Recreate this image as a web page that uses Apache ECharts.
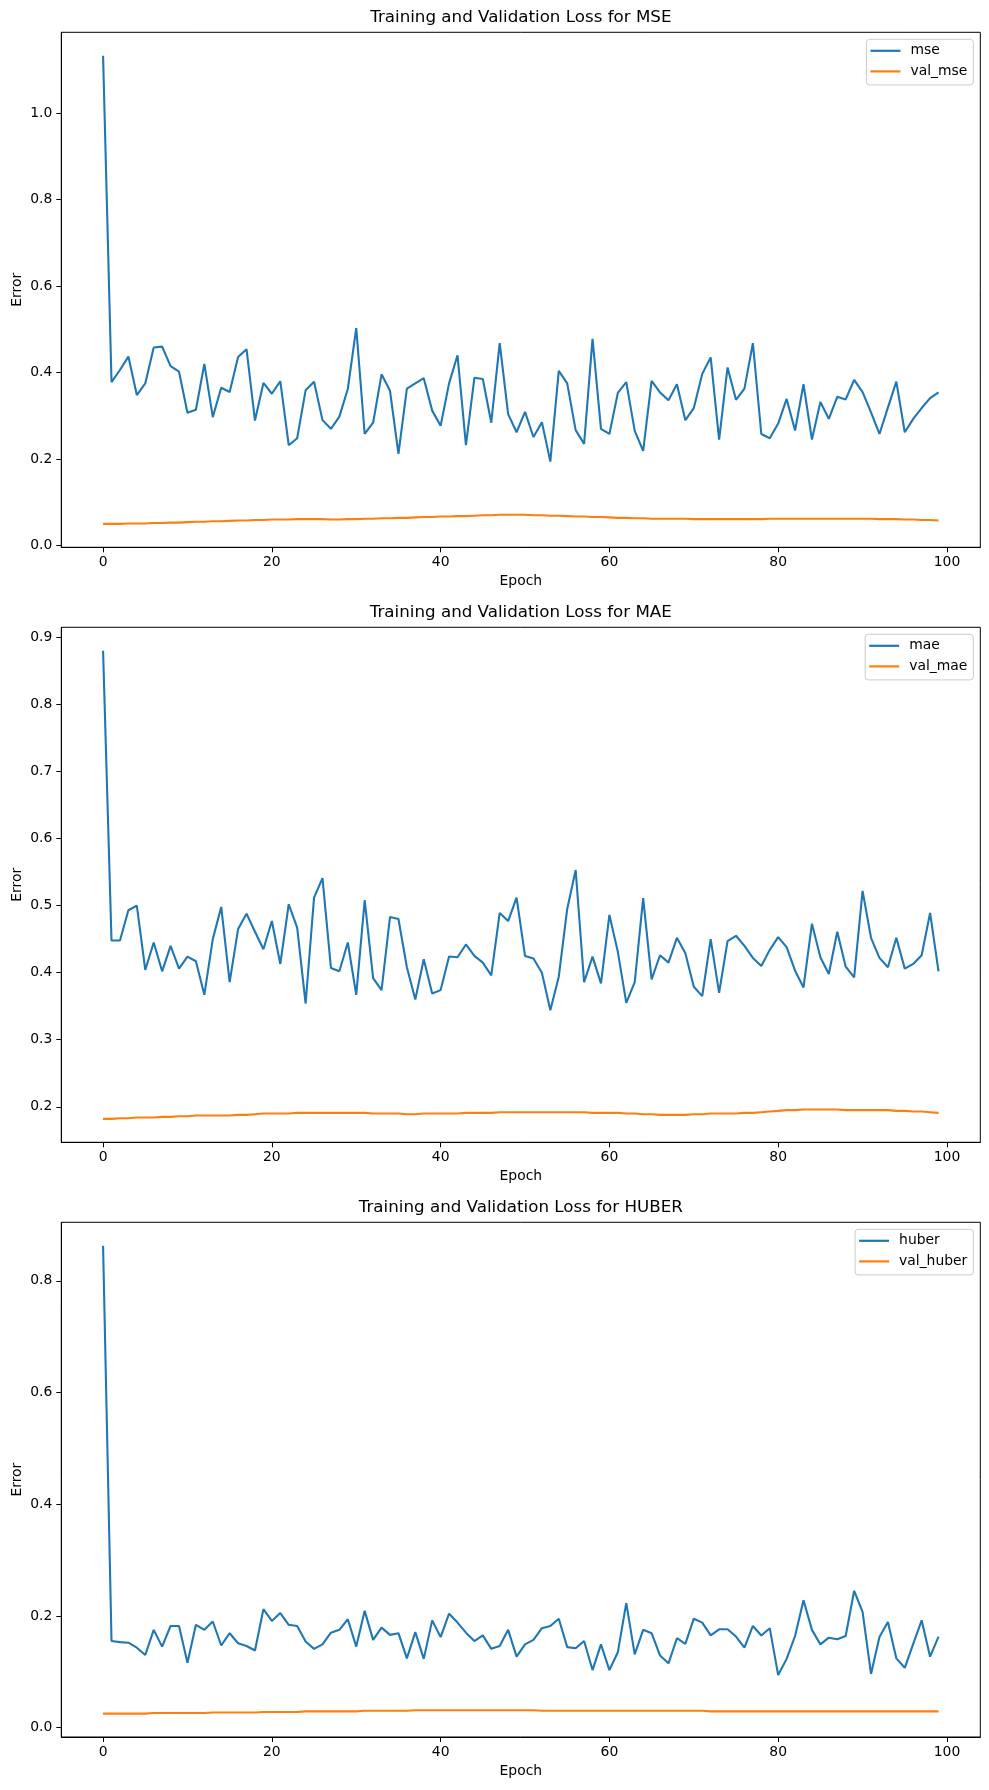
<!DOCTYPE html>
<html>
<head>
<meta charset="utf-8">
<script src="https://cdn.jsdelivr.net/npm/echarts@6/dist/echarts.min.js"></script>
<style>
  html, body { margin: 0; padding: 0; background: #ffffff; }
  #chart { width: 989px; height: 1790px; }
</style>
</head>
<body>
<div id="chart"></div>
<script>
// values, one per epoch (0..99)
const mse = [1.133, 0.378, 0.406, 0.437, 0.348, 0.375, 0.458, 0.460, 0.415, 0.402,
  0.307, 0.314, 0.420, 0.297, 0.365, 0.355, 0.436, 0.454, 0.289, 0.376,
  0.351, 0.380, 0.232, 0.248, 0.359, 0.379, 0.290, 0.270, 0.298, 0.362,
  0.503, 0.258, 0.284, 0.396, 0.358, 0.212, 0.363, 0.375, 0.387, 0.312,
  0.277, 0.375, 0.440, 0.232, 0.388, 0.385, 0.284, 0.468, 0.304, 0.262,
  0.309, 0.251, 0.285, 0.194, 0.404, 0.375, 0.267, 0.235, 0.478, 0.270,
  0.258, 0.353, 0.378, 0.265, 0.219, 0.381, 0.354, 0.336, 0.373, 0.290,
  0.318, 0.397, 0.435, 0.245, 0.412, 0.337, 0.363, 0.468, 0.258, 0.248,
  0.282, 0.339, 0.266, 0.373, 0.245, 0.332, 0.293, 0.344, 0.338, 0.383,
  0.355, 0.308, 0.258, 0.319, 0.379, 0.262, 0.293, 0.318, 0.341, 0.354];

const valMse = [0.050, 0.050, 0.050, 0.051, 0.051, 0.051, 0.052, 0.052, 0.053, 0.053,
  0.054, 0.055, 0.055, 0.056, 0.056, 0.057, 0.058, 0.058, 0.059, 0.059,
  0.060, 0.060, 0.060, 0.061, 0.061, 0.061, 0.061, 0.060, 0.060, 0.061,
  0.061, 0.062, 0.062, 0.063, 0.063, 0.064, 0.064, 0.065, 0.066, 0.066,
  0.067, 0.067, 0.068, 0.068, 0.069, 0.070, 0.070, 0.071, 0.071, 0.071,
  0.071, 0.070, 0.070, 0.069, 0.069, 0.068, 0.067, 0.067, 0.066, 0.066,
  0.065, 0.064, 0.064, 0.063, 0.063, 0.062, 0.062, 0.062, 0.062, 0.062,
  0.061, 0.061, 0.061, 0.061, 0.061, 0.061, 0.061, 0.061, 0.061, 0.062,
  0.062, 0.062, 0.062, 0.062, 0.062, 0.062, 0.062, 0.062, 0.062, 0.062,
  0.062, 0.062, 0.061, 0.061, 0.061, 0.060, 0.060, 0.059, 0.059, 0.058];

const mae = [0.880, 0.448, 0.448, 0.493, 0.500, 0.404, 0.445, 0.402, 0.440, 0.406,
  0.424, 0.417, 0.367, 0.450, 0.498, 0.386, 0.465, 0.488, 0.461, 0.435,
  0.477, 0.413, 0.502, 0.467, 0.354, 0.512, 0.541, 0.407, 0.402, 0.445,
  0.367, 0.508, 0.392, 0.374, 0.483, 0.480, 0.408, 0.360, 0.420, 0.369,
  0.374, 0.424, 0.423, 0.442, 0.425, 0.415, 0.396, 0.489, 0.477, 0.512,
  0.425, 0.421, 0.400, 0.344, 0.394, 0.495, 0.553, 0.386, 0.424, 0.384,
  0.486, 0.431, 0.355, 0.386, 0.511, 0.390, 0.426, 0.415, 0.452, 0.429,
  0.379, 0.365, 0.450, 0.370, 0.447, 0.455, 0.440, 0.422, 0.410, 0.434,
  0.453, 0.438, 0.403, 0.378, 0.473, 0.423, 0.398, 0.461, 0.409, 0.393,
  0.522, 0.452, 0.422, 0.408, 0.452, 0.406, 0.413, 0.426, 0.489, 0.402];

const valMae = [0.182, 0.182, 0.183, 0.183, 0.184, 0.184, 0.184, 0.185, 0.185, 0.186,
  0.186, 0.187, 0.187, 0.187, 0.187, 0.187, 0.188, 0.188, 0.189, 0.190,
  0.190, 0.190, 0.190, 0.191, 0.191, 0.191, 0.191, 0.191, 0.191, 0.191,
  0.191, 0.191, 0.190, 0.190, 0.190, 0.190, 0.189, 0.189, 0.190, 0.190,
  0.190, 0.190, 0.190, 0.191, 0.191, 0.191, 0.191, 0.192, 0.192, 0.192,
  0.192, 0.192, 0.192, 0.192, 0.192, 0.192, 0.192, 0.192, 0.191, 0.191,
  0.191, 0.191, 0.190, 0.190, 0.189, 0.189, 0.188, 0.188, 0.188, 0.188,
  0.189, 0.189, 0.190, 0.190, 0.190, 0.190, 0.191, 0.191, 0.192, 0.193,
  0.194, 0.195, 0.195, 0.196, 0.196, 0.196, 0.196, 0.196, 0.195, 0.195,
  0.195, 0.195, 0.195, 0.195, 0.194, 0.194, 0.193, 0.193, 0.192, 0.191];

const huber = [0.863, 0.155, 0.153, 0.152, 0.143, 0.130, 0.175, 0.145, 0.182, 0.182,
  0.116, 0.184, 0.175, 0.190, 0.147, 0.169, 0.151, 0.146, 0.138, 0.212,
  0.191, 0.205, 0.184, 0.182, 0.154, 0.141, 0.149, 0.170, 0.175, 0.194,
  0.145, 0.209, 0.157, 0.179, 0.166, 0.169, 0.124, 0.171, 0.123, 0.192,
  0.162, 0.204, 0.188, 0.170, 0.155, 0.165, 0.141, 0.146, 0.175, 0.127,
  0.149, 0.157, 0.178, 0.182, 0.195, 0.144, 0.142, 0.155, 0.103, 0.149,
  0.103, 0.135, 0.223, 0.131, 0.175, 0.169, 0.129, 0.115, 0.160, 0.150,
  0.195, 0.188, 0.165, 0.176, 0.176, 0.163, 0.143, 0.182, 0.165, 0.178,
  0.094, 0.123, 0.164, 0.228, 0.175, 0.149, 0.161, 0.158, 0.164, 0.245,
  0.207, 0.096, 0.162, 0.189, 0.124, 0.107, 0.150, 0.192, 0.127, 0.163];

const valHuber = [0.025, 0.025, 0.025, 0.025, 0.025, 0.025, 0.026, 0.026, 0.026, 0.026,
  0.026, 0.026, 0.026, 0.027, 0.027, 0.027, 0.027, 0.027, 0.027, 0.028,
  0.028, 0.028, 0.028, 0.028, 0.029, 0.029, 0.029, 0.029, 0.029, 0.029,
  0.029, 0.030, 0.030, 0.030, 0.030, 0.030, 0.030, 0.031, 0.031, 0.031,
  0.031, 0.031, 0.031, 0.031, 0.031, 0.031, 0.031, 0.031, 0.031, 0.031,
  0.031, 0.031, 0.030, 0.030, 0.030, 0.030, 0.030, 0.030, 0.030, 0.030,
  0.030, 0.030, 0.030, 0.030, 0.030, 0.030, 0.030, 0.030, 0.030, 0.030,
  0.030, 0.030, 0.029, 0.029, 0.029, 0.029, 0.029, 0.029, 0.029, 0.029,
  0.029, 0.029, 0.029, 0.029, 0.029, 0.029, 0.029, 0.029, 0.029, 0.029,
  0.029, 0.029, 0.029, 0.029, 0.029, 0.029, 0.029, 0.029, 0.029, 0.029];

const xTicks = [0, 20, 40, 60, 80, 100];
const mseTicks = [0, 0.2, 0.4, 0.6, 0.8, 1.0];
const maeTicks = [0.2, 0.3, 0.4, 0.5, 0.6, 0.7, 0.8, 0.9];
const huberTicks = [0, 0.2, 0.4, 0.6, 0.8];

const panels = [
  { title: "Training and Validation Loss for MSE", names: ["mse", "val_mse"], train: mse, val: valMse, yTicks: mseTicks, top: 32.3, height: 515 },
  { title: "Training and Validation Loss for MAE", names: ["mae", "val_mae"], train: mae, val: valMae, yTicks: maeTicks, top: 627.3, height: 515 },
  { title: "Training and Validation Loss for HUBER", names: ["huber", "val_huber"], train: huber, val: valHuber, yTicks: huberTicks, top: 1222.3, height: 514.7 },
];

const FONT = "DejaVu Sans";
const GRID_LEFT = 61.3;
const GRID_WIDTH = 919;
const BLUE = "#1f77b4";
const ORANGE = "#ff7f0e";

// matplotlib-style 5% margins around the data
function limits(values) {
  const lo = Math.min(...values);
  const hi = Math.max(...values);
  const pad = (hi - lo) * 0.05;
  return [lo - pad, hi + pad];
}

const option = {
  animation: false,
  backgroundColor: "#ffffff",
  textStyle: { fontFamily: FONT, color: "#000000" },
  title: [],
  legend: [],
  grid: [],
  xAxis: [],
  yAxis: [],
  series: [],
};

const xLim = limits(mse.map((_, i) => i));

panels.forEach((p, k) => {
  const yLim = limits(p.train.concat(p.val));

  option.title.push({
    text: p.title,
    left: GRID_LEFT + GRID_WIDTH / 2,
    top: p.top - 24.3,
    textAlign: "center",
    padding: 0,
    textStyle: { fontFamily: FONT, fontSize: 16.7, fontWeight: "normal", color: "#000000", lineHeight: 20 },
  });

  option.legend.push({
    orient: "vertical",
    right: 989 - 973.3,
    top: p.top + 7,
    padding: [3, 6, 5, 4],
    itemGap: 3.6,
    itemWidth: 30,
    itemHeight: 2.2,
    icon: "rect",
    backgroundColor: "rgba(255,255,255,0.8)",
    borderColor: "#cccccc",
    borderWidth: 1,
    borderRadius: 3,
    selectedMode: false,
    data: p.names,
    textStyle: { fontFamily: FONT, fontSize: 13.9, color: "#000000", lineHeight: 17, padding: [0, 0, 0, 5] },
  });

  option.grid.push({
    left: GRID_LEFT,
    top: p.top,
    width: GRID_WIDTH,
    height: p.height,
    show: true,
    borderColor: "#000000",
    borderWidth: 1,
    backgroundColor: "transparent",
    outerBoundsMode: "none",
  });

  option.xAxis.push({
    type: "value",
    gridIndex: k,
    min: xLim[0],
    max: xLim[1],
    name: "Epoch",
    nameLocation: "middle",
    nameGap: 27,
    nameMoveOverlap: false,
    nameTextStyle: { fontFamily: FONT, fontSize: 13.9, color: "#000000" },
    axisLine: { onZero: false, lineStyle: { color: "#000000", width: 1 } },
    axisTick: { show: true, length: 5, lineStyle: { color: "#000000", width: 1 }, customValues: xTicks },
    axisLabel: { fontFamily: FONT, fontSize: 13.9, color: "#000000", margin: 8, customValues: xTicks },
    splitLine: { show: false },
  });

  option.yAxis.push({
    type: "value",
    gridIndex: k,
    min: yLim[0],
    max: yLim[1],
    name: "Error",
    nameLocation: "middle",
    nameGap: 37,
    nameMoveOverlap: false,
    nameTextStyle: { fontFamily: FONT, fontSize: 13.9, color: "#000000" },
    axisLine: { show: true, onZero: false, lineStyle: { color: "#000000", width: 1 } },
    axisTick: { show: true, length: 5, lineStyle: { color: "#000000", width: 1 }, customValues: p.yTicks },
    axisLabel: {
      fontFamily: FONT, fontSize: 13.9, color: "#000000", margin: 9,
      customValues: p.yTicks,
      formatter: (v) => v.toFixed(1),
    },
    splitLine: { show: false },
  });

  [p.train, p.val].forEach((values, j) => {
    option.series.push({
      name: p.names[j],
      type: "line",
      xAxisIndex: k,
      yAxisIndex: k,
      data: values.map((v, i) => [i, v]),
      symbol: "none",
      showSymbol: false,
      silent: true,
      color: j === 0 ? BLUE : ORANGE,
      lineStyle: { width: 2.1, color: j === 0 ? BLUE : ORANGE },
      emphasis: { disabled: true },
    });
  });
});

const chart = echarts.init(document.getElementById("chart"), null, { renderer: "canvas" });
chart.setOption(option);
</script>
</body>
</html>
